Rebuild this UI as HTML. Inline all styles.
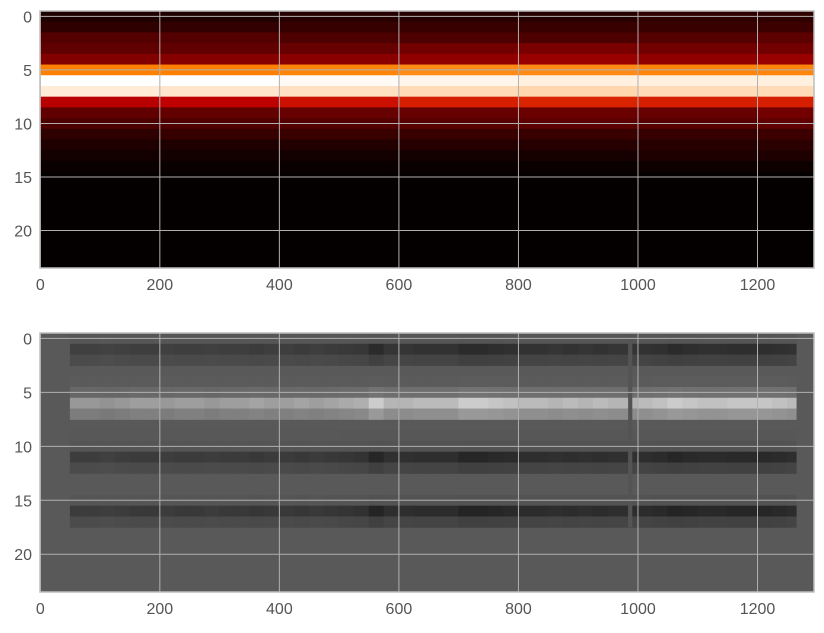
<!DOCTYPE html>
<html><head><meta charset="utf-8"><style>
body{margin:0;background:#fff;font-family:"Liberation Sans",sans-serif}
svg text{font-family:"Liberation Sans",sans-serif;font-size:16px;fill:#555}
</style></head><body>
<svg id="chart" width="824" height="628" xmlns="http://www.w3.org/2000/svg">
<g id="top"></g>
<g id="bot"></g>
</svg>
<script>
const xTicks=[0,200,400,600,800,1000,1200];
const yTicks=[0,5,10,15,20];
const nCols=1295, nRows=24;
const topSegStarts=[0,200,400,600,800,1000,1200];
const topValues=[
[.08,.08,.1,.1,.1,.12,.12],[.12,.13,.14,.15,.15,.15,.16],[.22,.22,.2,.2,.2,.22,.24],
[.25,.25,.27,.3,.32,.3,.3],[.34,.35,.36,.38,.4,.38,.4],[.75,.75,.76,.77,.77,.76,.76],
[1,1,.99,.98,.97,.97,.97],[.96,.95,.94,.93,.92,.93,.93],[.48,.5,.53,.56,.57,.56,.56],
[.25,.26,.27,.27,.28,.27,.3],[.2,.21,.22,.23,.24,.23,.25],[.12,.14,.15,.15,.15,.14,.16],
[.08,.08,.09,.1,.1,.1,.11],[.05,.05,.05,.05,.06,.08,.08],[.03,.03,.03,.03,.03,.04,.04],
[.01,.01,.01,.01,.01,.01,.01],[.01,.01,.01,.01,.01,.01,.01],[.01,.01,.01,.01,.01,.01,.01],
[.01,.01,.01,.01,.01,.01,.01],[.01,.01,.01,.01,.01,.01,.01],[.01,.01,.01,.01,.01,.01,.01],
[.01,.01,.01,.01,.01,.01,.01],[.01,.01,.01,.01,.01,.01,.01],[.01,.01,.01,.01,.01,.01,.01]];
const botBase=0.35, botStart=50, botEnd=1265, botSegW=25;
const botGapCol=984, botGapW=7;
const botAmps=[.55,.55,.5,.55,.6,.6,.55,.6,
.6,.55,.6,.6,.65,.6,.6,.65,.6,.65,
.7,.75,1.0,.8,.8,.85,.85,.85,
1,1,.95,.9,.85,.85,.8,.85,.8,.85,.8,
.8,
.85,.9,1,.95,.9,.9,.95,.95,.95,.9,.85];
const botRowDelta=[-.02,-.18,-.1,0,.01,.1,.45,.25,0,-.01,-.03,-.2,-.1,0,0,-.03,-.21,-.1,0,0,0,0,0,0];

const NS="http://www.w3.org/2000/svg";
function heat(v){v=Math.max(0,Math.min(1,v));const r=Math.min(1,1.5*v),g=Math.max(0,Math.min(1,2*v-1)),b=Math.max(0,Math.min(1,4*v-3));return `rgb(${Math.round(r*255)},${Math.round(g*255)},${Math.round(b*255)})`;}
function gray(v){v=Math.max(0,Math.min(1,v));const c=Math.round(v*255);return `rgb(${c},${c},${c})`;}
function mk(tag,attrs,parent){const e=document.createElementNS(NS,tag);for(const k in attrs)e.setAttribute(k,attrs[k]);parent.appendChild(e);return e;}
function axes(g,L,T,W,H){
  const sx=c=>L+(c+0.5)*W/nCols, sy=r=>T+(r+0.5)*H/nRows;
  return {sx,sy,L,T,W,H,g};
}
function frame(ax,name){
  const {g,L,T,W,H,sx,sy}=ax;
  xTicks.forEach(t=>{const l=mk('line',{x1:sx(t),x2:sx(t),y1:T,y2:T+H,stroke:'#b0b0b0','stroke-width':1},g);
    
    const tx=mk('text',{x:sx(t),y:T+H+22,'text-anchor':'middle'},g);tx.textContent=t;
    });
  yTicks.forEach(t=>{const l=mk('line',{x1:L,x2:L+W,y1:sy(t),y2:sy(t),stroke:'#b0b0b0','stroke-width':1},g);
    
    const tx=mk('text',{x:L-8,y:sy(t)+6,'text-anchor':'end'},g);tx.textContent=t;
    });
  const f=mk('rect',{x:L,y:T,width:W,height:H,fill:'none',stroke:'#bdbdbd','stroke-width':1.5},g);
  
}
const tg=document.getElementById('top');
const ta=axes(tg,40,11,774,257);
const cw=ta.W/nCols, rh=ta.H/nRows;
topValues.forEach((row,r)=>row.forEach((v,i)=>{
  const c0=topSegStarts[i], c1=i+1<topSegStarts.length?topSegStarts[i+1]:nCols;
  const x0=ta.L+c0*cw, x1=ta.L+c1*cw;
  const rc=mk('rect',{x:x0,y:ta.T+r*rh,width:x1-x0+0.5,height:rh+0.5,fill:heat(v)},tg);
  
}));
frame(ta,'top-axes');
const bg=document.getElementById('bot');
const ba=axes(bg,40,333,774,259);
const bcw=ba.W/nCols, brh=ba.H/nRows;
const bgRect=mk('rect',{x:ba.L,y:ba.T,width:ba.W,height:ba.H,fill:gray(botBase)},bg);

botAmps.forEach((a,i)=>{
  const c0=botStart+i*botSegW, c1=Math.min(botEnd,c0+botSegW);
  botRowDelta.forEach((d,r)=>{
    if(d===0)return;
    const x0=ba.L+c0*bcw, x1=ba.L+c1*bcw;
    const rc=mk('rect',{x:x0,y:ba.T+r*brh,width:x1-x0+0.5,height:brh+0.5,fill:gray(botBase+d*a)},bg);
    
  });
});
const gap=mk('rect',{x:ba.L+botGapCol*bcw,y:ba.T,width:botGapW*bcw,height:18*brh,fill:gray(botBase-0.02)},bg);

frame(ba,'bottom-axes');
</script>
</body></html>
